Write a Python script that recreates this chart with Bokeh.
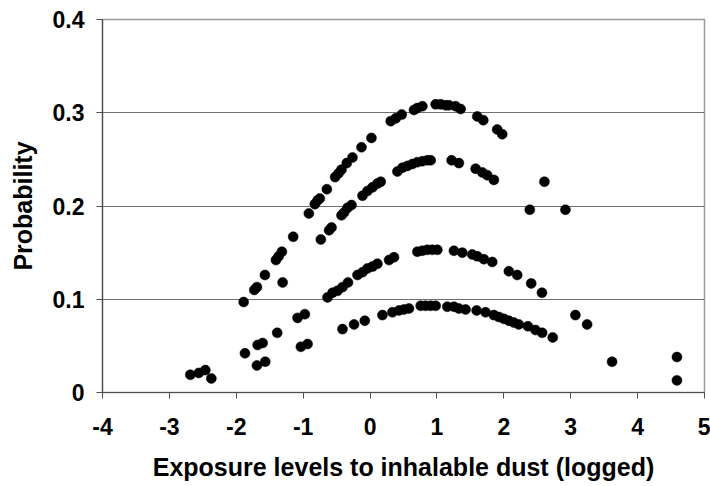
from bokeh.plotting import figure
from bokeh.models import FixedTicker, Range1d
from bokeh.embed import file_html
from bokeh.resources import INLINE

# Curve 1 (highest)
a_x = [-1.890, -1.731, -1.691, -1.572, -1.407, -1.367, -1.318, -1.149, -0.915, -0.825,
       -0.785, -0.751, -0.646, -0.522, -0.472, -0.427, -0.348, -0.263, -0.128, 0.021,
       0.309, 0.384, 0.473, 0.657, 0.707, 0.782, 0.981, 1.055, 1.130, 1.179,
       1.279, 1.354, 1.603, 1.693, 1.901, 1.976]
a_y = [0.097, 0.110, 0.113, 0.126, 0.142, 0.146, 0.151, 0.167, 0.192, 0.202,
       0.206, 0.208, 0.218, 0.231, 0.235, 0.239, 0.246, 0.252, 0.263, 0.273,
       0.291, 0.294, 0.298, 0.303, 0.305, 0.307, 0.309, 0.309, 0.308, 0.308,
       0.307, 0.304, 0.296, 0.292, 0.282, 0.277]

# Curve 2
b_x = [-1.307, -0.736, -0.612, -0.576, -0.427, -0.388, -0.337, -0.277, -0.113, -0.039,
       0.036, 0.110, 0.160, 0.409, 0.484, 0.558, 0.633, 0.707, 0.782, 0.857,
       0.906, 1.219, 1.328, 1.578, 1.678, 1.752, 1.851]
b_y = [0.118, 0.164, 0.174, 0.177, 0.190, 0.193, 0.198, 0.201, 0.211, 0.216,
       0.220, 0.224, 0.226, 0.237, 0.241, 0.243, 0.245, 0.247, 0.248, 0.249,
       0.249, 0.249, 0.246, 0.240, 0.236, 0.233, 0.228]

# Curve 3
c_x = [-1.870, -1.681, -1.606, -1.388, -1.084, -0.975, -0.636, -0.561, -0.487, -0.412,
       -0.330, -0.188, -0.113, -0.039, 0.036, 0.110, 0.284, 0.358, 0.707, 0.782,
       0.857, 0.931, 1.006, 1.254, 1.379, 1.528, 1.603, 1.701, 1.827, 2.075,
       2.200, 2.409, 2.570]
c_y = [0.042, 0.051, 0.053, 0.064, 0.080, 0.084, 0.102, 0.107, 0.109, 0.113,
       0.118, 0.126, 0.129, 0.133, 0.135, 0.138, 0.142, 0.145, 0.151, 0.152,
       0.153, 0.153, 0.153, 0.152, 0.150, 0.148, 0.146, 0.143, 0.140, 0.130,
       0.126, 0.117, 0.107]

# Curve 4 (lowest)
d_x = [-1.691, -1.567, -1.034, -0.934, -0.412, -0.239, -0.079, 0.185, 0.334, 0.433,
       0.507, 0.582, 0.757, 0.831, 0.906, 0.981, 1.155, 1.254, 1.328, 1.428,
       1.593, 1.727, 1.851, 1.925, 2.000, 2.075, 2.149, 2.224, 2.360, 2.473,
       2.573, 2.731]
d_y = [0.029, 0.033, 0.049, 0.052, 0.068, 0.073, 0.077, 0.083, 0.086, 0.088,
       0.089, 0.090, 0.093, 0.093, 0.093, 0.093, 0.092, 0.092, 0.090, 0.089,
       0.088, 0.086, 0.083, 0.081, 0.079, 0.077, 0.075, 0.073, 0.071, 0.067,
       0.064, 0.059]

# Remaining scattered points
e_x = [-2.687, -2.561, -2.463, -2.373, 2.388, 2.607, 2.921, 3.070, 3.245, 3.618, 4.588, 4.588]
e_y = [0.019, 0.021, 0.024, 0.015, 0.196, 0.226, 0.196, 0.083, 0.073, 0.033, 0.038, 0.013]

x_ticks = [-4, -3, -2, -1, 0, 1, 2, 3, 4, 5]
y_ticks = [0, 0.1, 0.2, 0.3, 0.4]

FONT = "Liberation Sans"

p = figure(width=710, height=486, output_backend="svg", toolbar_location=None,
           x_range=Range1d(-4, 5), y_range=Range1d(0, 0.4),
           min_border_left=102, min_border_right=6, min_border_top=19,
           min_border_bottom=94)
p.background_fill_color = "white"
p.border_fill_color = "white"
p.outline_line_color = "#999999"
p.outline_line_width = 1.5

for xs, ys in [(a_x, a_y), (b_x, b_y), (c_x, c_y), (d_x, d_y), (e_x, e_y)]:
    p.scatter(xs, ys, marker="circle", size=10, fill_color="black", line_color="black",
              line_width=0.5)

p.xgrid.visible = False
p.ygrid.grid_line_color = "#6e6e6e"
p.ygrid.grid_line_width = 1

p.xaxis.ticker = FixedTicker(ticks=x_ticks)
p.yaxis.ticker = FixedTicker(ticks=y_ticks)
p.xaxis.major_label_overrides = {t: str(t) for t in x_ticks}
p.yaxis.major_label_overrides = {0: "0"}

for ax in (p.xaxis, p.yaxis):
    ax.axis_line_color = "#4d4d4d"
    ax.axis_line_width = 1.2
    ax.major_tick_line_color = "#4d4d4d"
    ax.major_tick_in = 0
    ax.major_tick_out = 6
    ax.minor_tick_line_color = None
    ax.major_label_text_font = FONT
    ax.major_label_text_font_style = "bold"
    ax.major_label_text_font_size = "23px"
    ax.major_label_text_color = "black"
    ax.axis_label_text_font = FONT
    ax.axis_label_text_font_style = "bold"
    ax.axis_label_text_font_size = "25px"
    ax.axis_label_text_color = "black"

p.xaxis.axis_label = "Exposure levels to inhalable dust (logged)"
p.yaxis.axis_label = "Probability"
p.xaxis.major_label_standoff = 19
p.yaxis.major_label_standoff = 12
p.xaxis.axis_label_standoff = 15
p.yaxis.axis_label_standoff = 13

open("out.html", "w").write(file_html(p, INLINE))
